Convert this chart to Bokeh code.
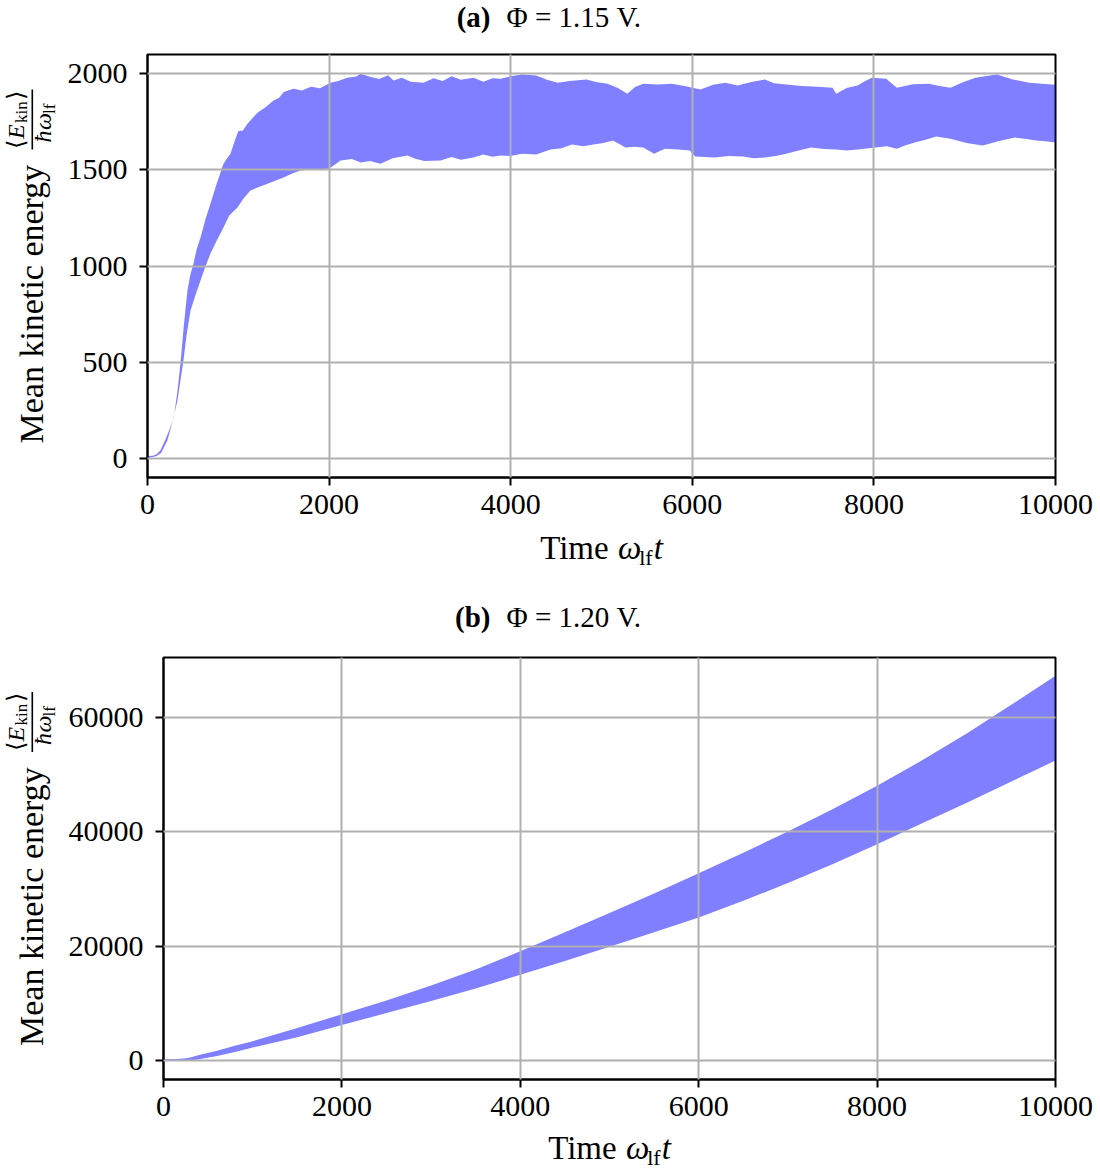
import numpy as np
from bokeh.plotting import figure
from bokeh.models import Label, Range1d, FixedTicker, BoxAnnotation
from bokeh.layouts import column, row
from bokeh.embed import file_html
from bokeh.resources import INLINE

# ---------------- data ----------------
x_ticks = [0, 2000, 4000, 6000, 8000, 10000]

# (a) Phi = 1.15 V : upper / lower envelope of the oscillating mean kinetic energy
a_t_upper = [0, 60, 100, 143, 200, 250, 290, 330, 363, 400, 440, 470, 507, 540, 584, 640, 694, 760,
             837, 870, 914, 960, 1000, 1050, 1101, 1150, 1211, 1300, 1388, 1450, 1500, 1608, 1700,
             1800, 1900, 2015, 2100, 2200, 2300, 2346, 2450, 2550, 2650, 2709, 2800, 2900, 3040,
             3150, 3250, 3350, 3450, 3590, 3700, 3800, 3888, 4000, 4123, 4281, 4400, 4517, 4650,
             4832, 4950, 5067, 5180, 5284, 5370, 5461, 5620, 5775, 5930, 6090, 6230, 6366, 6500,
             6650, 6798, 6900, 7034, 7200, 7380, 7545, 7585, 7700, 7821, 7900, 7978, 8135, 8253,
             8430, 8608, 8720, 8844, 8980, 9119, 9240, 9355, 9530, 9709, 9850, 10000]
a_upper = [12, 14, 22, 42, 100, 160, 213, 350, 493, 690, 873, 950, 1013, 1085, 1148, 1245, 1325, 1425,
           1532, 1555, 1584, 1650, 1700, 1705, 1740, 1765, 1797, 1825, 1860, 1875, 1905, 1922, 1912,
           1932, 1924, 1953, 1962, 1978, 1985, 2000, 1984, 1972, 1992, 1964, 1978, 1958, 1953,
           1976, 1962, 1986, 1968, 1979, 1958, 1976, 1974, 1986, 1995, 1990, 1968, 1953, 1962,
           1969, 1955, 1948, 1925, 1896, 1930, 1948, 1944, 1948, 1935, 1917, 1942, 1953, 1938,
           1956, 1969, 1950, 1943, 1936, 1932, 1927, 1896, 1925, 1938, 1960, 1979, 1974, 1927,
           1945, 1948, 1936, 1927, 1955, 1979, 1988, 1995, 1970, 1953, 1948, 1942]

a_t_lower = [0, 33, 100, 150, 220, 280, 330, 396, 430, 474, 530, 584, 640, 694, 760, 837, 900, 991,
             1060, 1134, 1220, 1322, 1400, 1498, 1600, 1685, 1800, 1993, 2050, 2126, 2250, 2350,
             2450, 2566, 2700, 2863, 2950, 3050, 3227, 3350, 3450, 3590, 3700, 3800, 3888, 4000,
             4123, 4281, 4438, 4560, 4674, 4800, 4910, 5020, 5126, 5264, 5360, 5461, 5579, 5697,
             5850, 5972, 6031, 6140, 6248, 6400, 6562, 6680, 6798, 6920, 7034, 7170, 7309, 7450,
             7585, 7700, 7821, 8017, 8140, 8253, 8350, 8450, 8570, 8686, 8844, 9020, 9198, 9380,
             9552, 9680, 9788, 9890, 10000]
a_lower = [0, 4, 12, 28, 94, 200, 301, 509, 640, 769, 850, 925, 1000, 1065, 1130, 1200, 1262, 1304,
           1352, 1392, 1410, 1428, 1442, 1460, 1482, 1496, 1502, 1506, 1522, 1548, 1556, 1538,
           1546, 1532, 1560, 1574, 1558, 1546, 1548, 1566, 1552, 1564, 1580, 1568, 1574, 1572,
           1584, 1579, 1605, 1612, 1631, 1622, 1631, 1640, 1652, 1616, 1620, 1616, 1584, 1610,
           1606, 1600, 1569, 1566, 1564, 1572, 1569, 1560, 1564, 1572, 1584, 1600, 1616, 1608,
           1605, 1600, 1605, 1616, 1622, 1610, 1628, 1642, 1656, 1673, 1662, 1640, 1626, 1650,
           1668, 1660, 1652, 1648, 1642]
a_y_ticks = [0, 500, 1000, 1500, 2000]

# (b) Phi = 1.20 V
b_t = [0, 150, 250, 300, 400, 600, 800, 1000, 1500, 2000, 2500, 3000, 3500, 4000, 4500, 5000,
       5500, 6000, 6500, 7000, 7500, 8000, 8500, 9000, 9500, 10000]
b_upper = [250, 300, 400, 550, 1000, 1700, 2600, 3400, 5700, 8100, 10500, 13100, 15900, 19100,
           22400, 25800, 29200, 32700, 36300, 40000, 43900, 48000, 52400, 57100, 62100, 67200]
b_lower = [0, 0, 10, 30, 250, 800, 1500, 2300, 4100, 6200, 8300, 10400, 12600, 15000, 17400,
           19900, 22400, 25000, 27900, 31000, 34300, 37800, 41400, 45000, 48700, 52400]
b_y_ticks = [0, 20000, 40000, 60000]

FONT = "Liberation Serif"
BAND = "#0000ff"
PI2 = np.pi / 2
YLAB_W = 62
MID = 0.3375  # distance (in em) between alphabetic baseline and box middle


def main_panel(height, left, top, bottom, yr, yticks, t_up, up, t_lo, lo):
    p = figure(width=1100 - YLAB_W, height=height, x_range=Range1d(0, 10000), y_range=Range1d(*yr),
               output_backend="svg", toolbar_location=None, frame_align=False,
               min_border_left=left - YLAB_W, min_border_right=45,
               min_border_top=top, min_border_bottom=bottom)
    xs = list(t_up) + list(t_lo)[::-1]
    ys = list(up) + list(lo)[::-1]
    p.patch(xs, ys, fill_color=BAND, fill_alpha=0.5, line_color=None)

    p.xaxis.ticker = FixedTicker(ticks=x_ticks)
    p.yaxis.ticker = FixedTicker(ticks=yticks)
    for ax in (p.xaxis, p.yaxis):
        ax.axis_line_width = 2
        ax.axis_line_color = "black"
        ax.major_tick_line_width = 2
        ax.major_tick_line_color = "black"
        ax.major_tick_out = 8
        ax.major_tick_in = 0
        ax.minor_tick_line_color = None
        ax.major_label_text_font = FONT
        ax.major_label_text_font_size = "30px"
        ax.major_label_text_color = "black"
    p.xaxis.major_label_standoff = 9
    p.yaxis.major_label_standoff = 12
    p.grid.grid_line_color = "#b0b0b0"
    p.grid.grid_line_width = 2
    p.grid.level = "guide"
    p.outline_line_color = "black"
    p.outline_line_width = 2
    p.outline_line_alpha = 1
    p.background_fill_color = "white"
    p.border_fill_color = "white"
    return p


def text_fig(w, h, page_left, page_top):
    f = figure(width=w, height=h, x_range=Range1d(0, w), y_range=Range1d(0, h), title=None,
               output_backend="svg", toolbar_location=None, frame_align=False,
               x_axis_location=None, y_axis_location=None,
               min_border_left=0, min_border_right=0, min_border_top=0, min_border_bottom=0)
    f.grid.visible = False
    f.outline_line_color = None
    f.background_fill_color = "white"
    f.border_fill_color = "white"
    f._page = (page_left, page_top)
    return f


def put(f, px, py, text, size, style="normal", align="left", angle=0.0):
    # (px, py): page position of the text box middle line
    pl, pt = f._page
    f.add_layout(Label(x=px - pl, y=f.height - (py - pt), text=text, text_font=FONT,
                       text_font_size=f"{size}px", text_font_style=style, text_align=align,
                       text_baseline="middle", angle=angle, text_color="black"))


def title_fig(page_top, h, title_y, tag, rest):
    f = text_fig(1100, h, 0, page_top)
    put(f, 490, title_y, tag, 29, style="bold", align="right")
    put(f, 506, title_y, rest, 29)
    return f


def xlabel_fig(page_top, h, base_y, xcenter, sub_drop):
    f = text_fig(1100, h, 0, page_top)
    s, ss = 33, 22
    w_time = 2.361 * s      # "Time " incl. space
    w_om = 0.64 * s
    w_lf = 0.611 * ss
    w_t = 0.278 * s
    total = w_time + w_om + w_lf + 1 + w_t
    x0 = xcenter - total / 2
    put(f, x0, base_y - MID * s, "Time", s)
    put(f, x0 + w_time, base_y - MID * s, "ω", s, style="italic")
    put(f, x0 + w_time + w_om, base_y + sub_drop - MID * ss, "lf", ss)
    put(f, x0 + w_time + w_om + w_lf + 1, base_y - MID * s, "t", s, style="italic")
    return f


def ylabel_fig(page_top, h, c):
    f = text_fig(YLAB_W, h, 0, page_top)
    s, fs, ss = 34, 24, 17
    put(f, 42 - MID * s, c + 177.5, "Mean kinetic energy", s, angle=PI2)
    # numerator <E_kin>
    put(f, 24 - MID * fs, c - 117.5, "⟨", fs, angle=PI2)
    put(f, 24 - MID * fs, c - 127.0, "E", fs, style="italic", angle=PI2)
    put(f, 27 - MID * ss, c - 143.0, "kin", ss, angle=PI2)
    put(f, 24 - MID * fs, c - 175.5, "⟩", fs, align="right", angle=PI2)
    # denominator hbar omega_lf
    put(f, 51 - MID * fs, c - 123.5, "ħ", fs, style="italic", angle=PI2)
    put(f, 51 - MID * fs, c - 136.0, "ω", fs, style="italic", angle=PI2)
    put(f, 55 - MID * ss, c - 152.0, "lf", ss, angle=PI2)
    pl, pt = f._page
    f.add_layout(BoxAnnotation(left=31 - pl, right=32.6 - pl,
                               bottom=h - ((c - 116.5) - pt), top=h - ((c - 176.5) - pt),
                               fill_color="black", fill_alpha=1.0, line_color=None))
    return f


# ---- panel (a): page y 0..585, frame x 147..1055, y 54..477
ta = title_fig(0, 40, 16, "(a)", "Φ = 1.15 V.")
ya = ylabel_fig(40, 488, 265.5)
ma = main_panel(488, 147, 54 - 40, 528 - 477, (-99.5, 2099.5), a_y_ticks,
                a_t_upper, a_upper, a_t_lower, a_lower)
xa = xlabel_fig(528, 57, 558.5, 601, 6)

# ---- panel (b): page y 585..1169, frame x 163..1055, y 657..1079
tb = title_fig(585, 52, 616, "(b)", "Φ = 1.20 V.")
yb = ylabel_fig(637, 493, 868)
mb = main_panel(493, 163, 657 - 637, 1130 - 1079, (-3300, 70400), b_y_ticks,
                b_t, b_upper, b_t, b_lower)
xb = xlabel_fig(1130, 39, 1159, 609, 5)

layout = column(ta, row(ya, ma, spacing=0), xa, tb, row(yb, mb, spacing=0), xb, spacing=0)
open("out.html", "w").write(file_html(layout, INLINE))
